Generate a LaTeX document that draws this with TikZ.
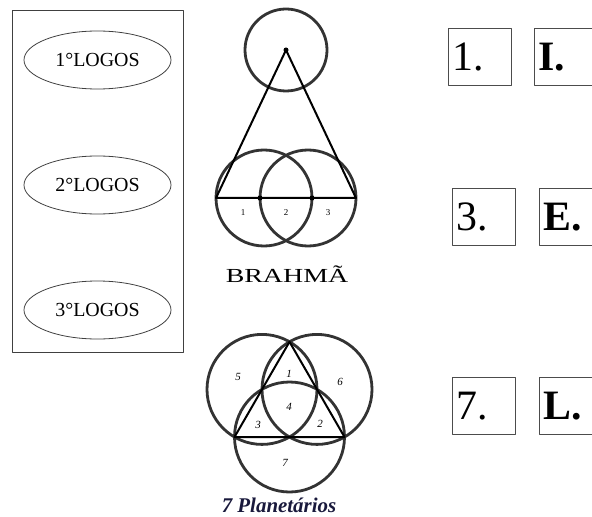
\documentclass[tikz,border=0pt]{standalone}
\usepackage{fontspec}
\setmainfont{Liberation Serif}
\usetikzlibrary{shapes.geometric,positioning}
\definecolor{navy}{RGB}{25,25,60}

\begin{document}
\begin{tikzpicture}[x=1bp,y=-1bp,line join=round,node distance=125bp]
  \tikzstyle{logos}=[ellipse,draw=black!75,line width=0.8bp,minimum width=147bp,
                     minimum height=58bp,inner sep=0pt,font=\fontsize{20}{20}\selectfont]
  \tikzstyle{ring}=[circle,draw=black!80,line width=2.8bp,inner sep=0pt,outer sep=0pt]
  \tikzstyle{tri}=[black,line width=2bp]
  \tikzstyle{numbox}=[draw=black!70,line width=0.9bp,minimum height=57bp,text width=55bp,
                      inner sep=4bp,align=left,anchor=north west,font=\fontsize{42}{42}\selectfont]
  \tikzstyle{letterbox}=[numbox,font=\fontsize{42}{42}\selectfont\bfseries]
  \tikzstyle{tiny}=[inner sep=0pt,font=\fontsize{9}{9}\selectfont]
  \tikzstyle{region}=[inner sep=0pt,font=\fontsize{11}{11}\selectfont\itshape]

  \useasboundingbox (0,0) rectangle (592,517);

  % the three logoi
  \draw[black!75,line width=0.8bp] (12,10) rectangle (183,352);
  \node[logos] (L1) at (97.5,60) {1°LOGOS};
  \node[logos] (L2) [below of=L1] {2°LOGOS};
  \node[logos] (L3) [below of=L2] {3°LOGOS};

  % brahma
  \node[ring,minimum size=82bp] (top) at (286,50) {};
  \node[ring,minimum size=96bp] (b1)  at (264,198) {};
  \node[ring,minimum size=96bp] (b2)  at (308,198) {};
  \draw[tri] (top.center) -- (b1.west) -- (b2.east) -- cycle;
  \fill (top.center) circle (2.5);
  \fill (b2.west) circle (2.5);
  \fill (b1.east) circle (2.5);
  \node[tiny] (t1) at (243,213) {1};
  \node[tiny] (t2) at (286,213) {2};
  \node[tiny] (t3) at (328,213) {3};
  \node[font=\fontsize{20}{20}\selectfont] (brahma) at (287,274) {\scalebox{1.4}[1]{BRAHMÃ}};

  % seven planetary
  \node[ring,minimum size=110bp] (c5) at (262,389.4) {};
  \node[ring,minimum size=110bp] (c6) at (317,389.4) {};
  \node[ring,minimum size=110bp] (c7) at (289.5,437) {};
  \coordinate (apex) at (289.5,341.8);
  \draw[tri] (apex) -- (c7.west) -- (c7.east) -- cycle;
  \node[region] (r1) at (289,374) {1};
  \node[region] (r2) at (320,424) {2};
  \node[region] (r3) at (258,425) {3};
  \node[region] (r4) at (289,407) {4};
  \node[region] (r5) at (238,377) {5};
  \node[region] (r6) at (340,382) {6};
  \node[region] (r7) at (285,463) {7};
  \node[font=\fontsize{21}{21}\selectfont\bfseries\itshape,text=navy] (planet) at (279,505) {7 Planetários};

  % numbers and letters
  \node[numbox]    (n1) at (448,28)  {1.};
  \node[letterbox] (l1) at (534,28)  {I.};
  \node[numbox]    (n3) at (452,188) {3.};
  \node[letterbox] (l3) at (539,188) {E.};
  \node[numbox]    (n7) at (452,377) {7.};
  \node[letterbox] (l7) at (539,377) {L.};
\end{tikzpicture}
\end{document}
